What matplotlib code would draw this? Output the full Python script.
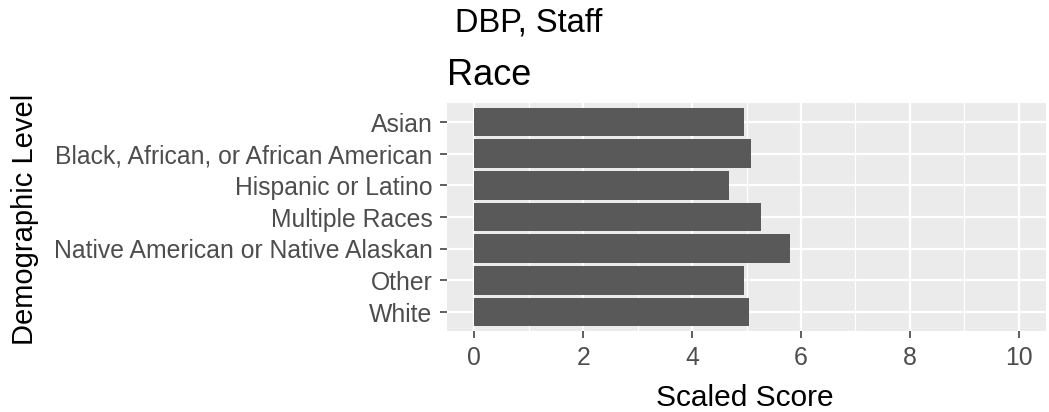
import matplotlib.pyplot as plt
import numpy as np

plt.rcParams['font.family'] = ['Liberation Sans', 'DejaVu Sans']

categories = ["Asian", "Black, African, or African American", "Hispanic or Latino",
              "Multiple Races", "Native American or Native Alaskan", "Other", "White"]
scores = [4.95, 5.09, 4.68, 5.27, 5.79, 4.95, 5.05]
x_ticks = [0, 2, 4, 6, 8, 10]

W, H = 1049, 412
fig = plt.figure(figsize=(W / 100, H / 100), dpi=100)
# panel box in pixels
left, right, top, bottom = 447, 1046, 103, 331
ax = fig.add_axes([left / W, (H - bottom) / H, (right - left) / W, (bottom - top) / H])

ax.set_facecolor('#EBEBEB')
ypos = np.arange(len(categories))[::-1] + 1
ax.barh(ypos, scores, height=0.9, color='#595959', zorder=3)

ax.set_xlim(-0.5, 10.5)
ax.set_ylim(0.4, len(categories) + 0.6)
ax.set_xticks(x_ticks)
ax.set_xticks(np.arange(1, 11, 2), minor=True)
ax.set_yticks(ypos)
ax.set_yticklabels(categories)

ax.grid(which='major', color='white', linewidth=1.6, zorder=0)
ax.grid(which='minor', axis='x', color='white', linewidth=0.8, zorder=0)
for s in ax.spines.values():
    s.set_visible(False)
ax.tick_params(which='major', colors='#333333', labelcolor='#4D4D4D',
               labelsize=17.8, length=5, width=1.1)
ax.tick_params(axis='y', pad=5.5)
ax.tick_params(axis='x', pad=5.5)
ax.tick_params(which='minor', length=0)

# titles and axis labels
ax.set_title('Race', fontsize=26, loc='left', pad=13)
fig.text(455 / W, 1 - 32 / H, 'DBP, Staff', fontsize=23.5, va='baseline', ha='left')
fig.text(745 / W, 1 - 406 / H, 'Scaled Score', fontsize=21.5, va='baseline', ha='center')
fig.text(25 / W, 1 - 219 / H, 'Demographic Level', fontsize=21, rotation=90,
         va='center', ha='center')

fig.savefig('out.png', dpi=100)
